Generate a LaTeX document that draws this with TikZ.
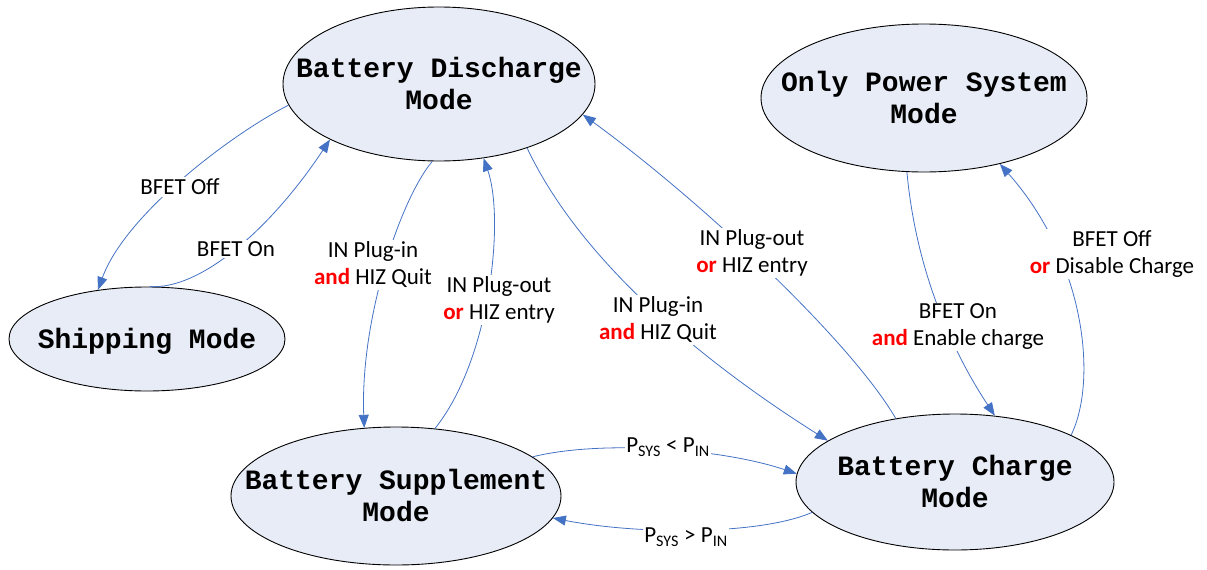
\documentclass[tikz,border=0pt]{standalone}
\usepackage{fontspec}
\setmainfont{Carlito}
\newfontfamily\monob{Liberation Mono}
\usetikzlibrary{shapes.geometric,arrows.meta}
\definecolor{modefill}{RGB}{231,236,246}
\definecolor{edgeblue}{RGB}{68,114,196}
\definecolor{condred}{RGB}{255,0,0}
\newcommand{\modetext}[1]{\makebox[0pt]{\raisebox{0pt}[\dimexpr\height+5.7pt\relax][\depth]{\begin{tabular}{@{}c@{}}#1\end{tabular}}}}
\newcommand{\cnd}[1]{\textcolor{condred}{\textbf{#1}}}
\begin{document}
\begin{tikzpicture}[x=1pt,y=-1pt,
  mode/.style={ellipse, draw=black, line width=0.9pt, fill=modefill, inner sep=0pt,
    font=\monob\bfseries\fontsize{28}{32}\selectfont},
  edge/.style={draw=edgeblue, line width=0.8pt, -{Triangle[length=13pt,width=10pt]}},
  lbl/.style={fill=white, inner sep=1.5pt, align=center, font=\fontsize{23}{27}\selectfont}]

\useasboundingbox (0,0) rectangle (1207,570);

% modes
\node[mode, minimum width=312pt, minimum height=154pt] (dis) at (439,84) {\modetext{Battery Discharge\\Mode}};
\node[mode, minimum width=276pt, minimum height=104pt] (ship) at (147,339) {\modetext{Shipping Mode}};
\node[mode, minimum width=330pt, minimum height=138pt] (sup) at (396,496) {\modetext{Battery Supplement\\Mode}};
\node[mode, minimum width=318pt, minimum height=136pt] (chg) at (955,482) {\modetext{Battery Charge\\Mode}};
\node[mode, minimum width=326pt, minimum height=148pt] (only) at (924,98) {\modetext{Only Power System\\Mode}};

% connectors
\draw[edge] (dis.188.7) .. controls (230,135) and (125,215) .. (ship.135);
\draw[edge] (ship.87) .. controls (200,290) and (270,230) .. (dis.207.2);
\draw[edge] (dis.265) .. controls (400,200) and (360,320) .. (sup.115.9);
\draw[edge] (sup.60.8) .. controls (490,360) and (505,220) .. (dis.301.2);
\draw[edge] (dis.-36.3) .. controls (580,260) and (700,360) .. (chg.162.1);
\draw[edge] (chg.133.2) .. controls (850,340) and (700,200) .. (dis.-12.9);
\draw[edge] (only.257) .. controls (915,260) and (945,340) .. (chg.59.2);
\draw[edge] (chg.22.6) .. controls (1098,380) and (1085,260) .. (only.-41.5);
\draw[edge] (sup.16.8) .. controls (600,440) and (720,448) .. (chg.177);
\draw[edge] (chg.192.9) .. controls (760,535) and (640,535) .. (sup.-8.1);

% labels
\node[lbl] (l1) at (180,187) {BFET Off};
\node[lbl] (l2) at (236,249) {BFET On};
\node[lbl] (l3) at (373,265) {IN Plug-in\\\cnd{and} HIZ Quit};
\node[lbl] (l4) at (499,300) {IN Plug-out\\\cnd{or} HIZ entry};
\node[lbl] (l5) at (658,320) {IN Plug-in\\\cnd{and} HIZ Quit};
\node[lbl] (l6) at (752,253) {IN Plug-out\\\cnd{or} HIZ entry};
\node[lbl] (l7) at (958,327) {BFET On\\\cnd{and} Enable charge};
\node[lbl] (l8) at (1112,254) {BFET Off\\\cnd{or} Disable Charge};
\node[lbl] (l9) at (668,447) {P\textsubscript{SYS} < P\textsubscript{IN}};
\node[lbl] (l10) at (686,537) {P\textsubscript{SYS} > P\textsubscript{IN}};
\end{tikzpicture}
\end{document}
